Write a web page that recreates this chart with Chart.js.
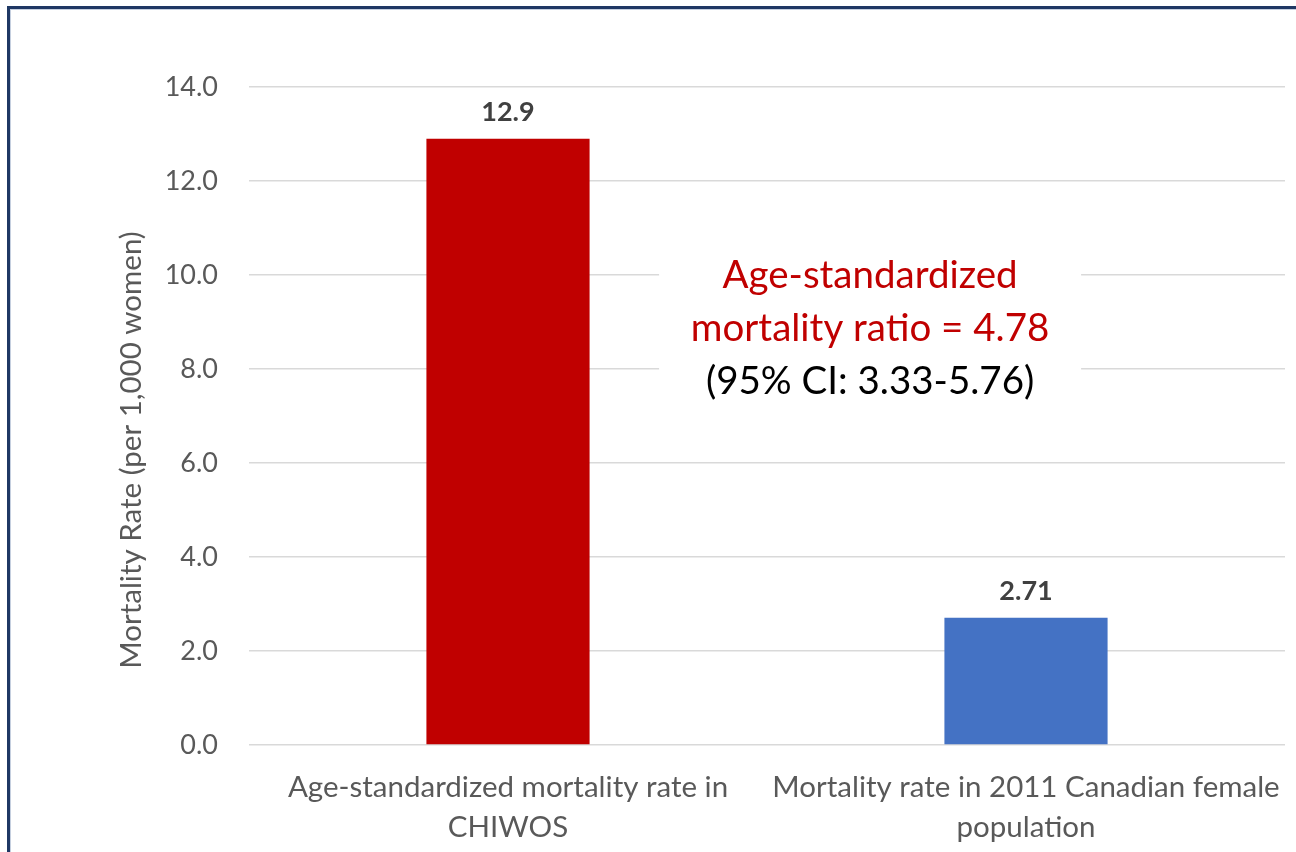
<!DOCTYPE html>
<html>
<head>
<meta charset="utf-8">
<script src="https://cdn.jsdelivr.net/npm/chart.js@4"></script>
<style>
  html, body { margin: 0; padding: 0; background: #ffffff; overflow: hidden; }
  #wrap { position: relative; width: 1296px; height: 852px; }
  #frame { position: absolute; left: 7px; top: 6px; width: 1400px; height: 1000px;
           border-left: 3px solid #1F3864; border-top: 3px solid #1F3864; }
  #frame2 { position: absolute; left: 10px; top: 9px; width: 1400px; height: 1000px;
           border-left: 1px solid #c5cfdf; border-top: 1px solid #c5cfdf; }
  canvas { position: absolute; left: 0; top: 0; }
</style>
</head>
<body>
<div id="wrap">
  <div id="frame"></div>
  <div id="frame2"></div>
  <canvas id="c" width="1296" height="852"></canvas>
</div>
<script>
// ---- data ----
const categories = [
  ["Age-standardized mortality rate in", "CHIWOS"],
  ["Mortality rate in 2011 Canadian female", "population"]
];
const values = [12.9, 2.71];
const valueLabels = ["12.9", "2.71"];
const barColors = ["#C00000", "#4472C4"];
const yTitle = "Mortality Rate (per 1,000 women)";
const annotationLines = [
  { text: "Age-standardized", color: "#C00000" },
  { text: "mortality ratio = 4.78", color: "#C00000" },
  { text: "(95% CI: 3.33-5.76)", color: "#000000" }
];
const yMin = 0, yMax = 14, yStep = 2;

const FONT = "Lato, 'Open Sans', sans-serif";

const valueLabelPlugin = {
  id: 'valueLabels',
  afterDatasetsDraw(chart) {
    const ctx = chart.ctx;
    const meta = chart.getDatasetMeta(0);
    ctx.save();
    ctx.font = "bold 27px " + FONT;
    ctx.fillStyle = "#404040";
    ctx.textAlign = "center";
    ctx.textBaseline = "alphabetic";
    meta.data.forEach((bar, i) => {
      ctx.fillText(valueLabels[i], bar.x, bar.y - 18);
    });
    ctx.restore();
  }
};

const annotationPlugin = {
  id: 'annotation',
  afterDraw(chart) {
    const ctx = chart.ctx;
    const area = chart.chartArea;
    const yScale = chart.scales.y;
    const cx = area.left + (area.right - area.left) * 0.5995;
    const yTop = yScale.getPixelForValue(10.65);
    ctx.save();
    ctx.fillStyle = "#ffffff";
    ctx.fillRect(cx - 211, yTop, 422, 165);
    ctx.font = "38.5px " + FONT;
    ctx.textAlign = "center";
    ctx.textBaseline = "middle";
    annotationLines.forEach((ln, i) => {
      ctx.fillStyle = ln.color;
      ctx.fillText(ln.text, cx, yTop + 31 + i * 53);
    });
    ctx.restore();
  }
};

const yTitlePlugin = {
  id: 'yTitle',
  afterDraw(chart) {
    const ctx = chart.ctx;
    const area = chart.chartArea;
    ctx.save();
    ctx.translate(131, (area.top + area.bottom) / 2 + 34);
    ctx.rotate(-Math.PI / 2);
    ctx.font = "29.5px " + FONT;
    ctx.fillStyle = "#595959";
    ctx.textAlign = "center";
    ctx.textBaseline = "middle";
    ctx.fillText(yTitle, 0, 0);
    ctx.restore();
  }
};

new Chart(document.getElementById('c'), {
  type: 'bar',
  data: {
    labels: categories,
    datasets: [{
      data: values,
      backgroundColor: barColors,
      borderWidth: 0,
      barPercentage: 0.315,
      categoryPercentage: 1.0
    }]
  },
  options: {
    responsive: false,
    animation: false,
    devicePixelRatio: 1,
    layout: { padding: { left: 0, right: 11, top: 87, bottom: 0 } },
    plugins: {
      legend: { display: false },
      tooltip: { enabled: false },
      title: { display: false }
    },
    scales: {
      x: {
        grid: { display: false, drawTicks: false },
        border: { display: false },
        ticks: {
          color: "#595959",
          font: { family: FONT, size: 29.5, lineHeight: 1.36 },
          padding: 22,
          maxRotation: 0,
          autoSkip: false
        },
        afterFit(scale) {
          scale.height = 107;
          scale.paddingLeft = 0;
          scale.paddingRight = 0;
        }
      },
      y: {
        min: yMin,
        max: yMax,
        grid: { color: "#d9d9d9", lineWidth: 1.5, drawTicks: false },
        border: { display: false },
        ticks: {
          stepSize: yStep,
          color: "#595959",
          font: { family: FONT, size: 27 },
          padding: 31,
          callback: (v) => Number(v).toFixed(1)
        },
        afterFit(scale) {
          scale.width = 249;
          scale.paddingTop = 0;
          scale.paddingBottom = 0;
        }
      }
    }
  },
  plugins: [valueLabelPlugin, annotationPlugin, yTitlePlugin]
});
</script>
</body>
</html>
